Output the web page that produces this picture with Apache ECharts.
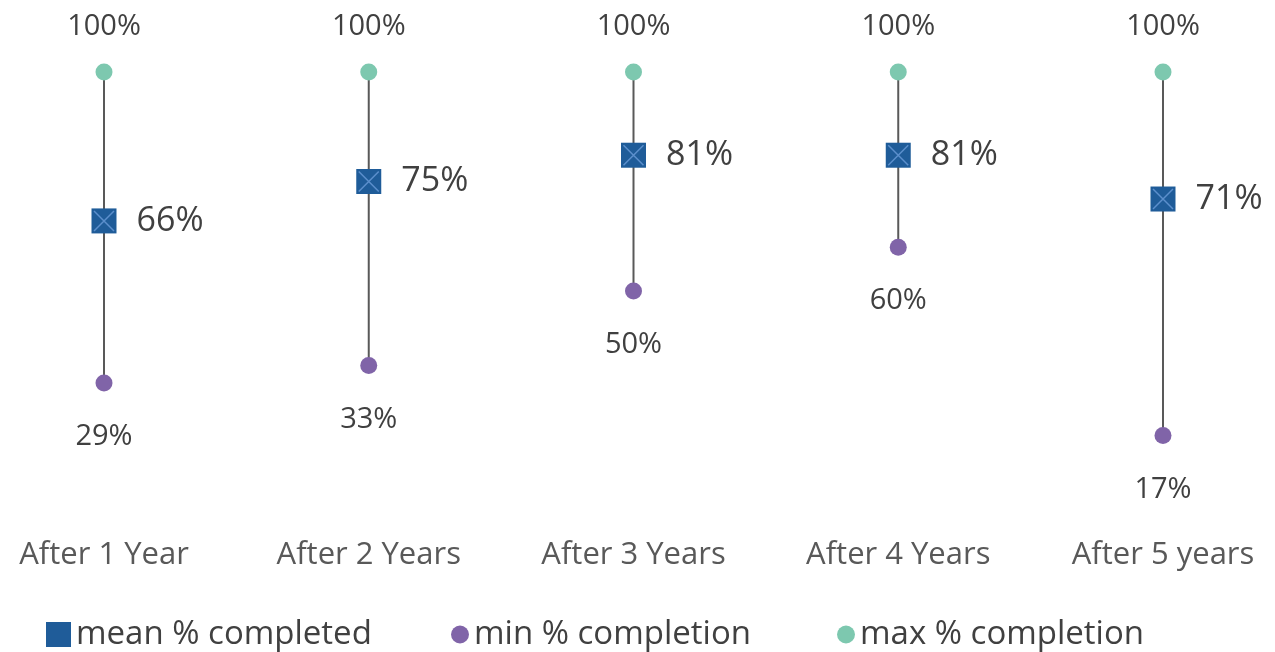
<!DOCTYPE html>
<html>
<head>
<meta charset="utf-8">
<script src="https://cdn.jsdelivr.net/npm/echarts@6/dist/echarts.min.js"></script>
<style>
  html, body { margin: 0; padding: 0; background: #fff; }
  #chart { width: 1275px; height: 652px; }
</style>
</head>
<body>
<div id="chart"></div>
<script>
// data
const categories = ['After 1 Year', 'After 2 Years', 'After 3 Years', 'After 4 Years', 'After 5 years']
const meanValues = [66, 75, 81, 81, 71]
const minValues = [29, 33, 50, 60, 17]
const maxValues = [100, 100, 100, 100, 100]

const FONT = '"Open Sans"'
const TEXT = '#404040'

const chart = echarts.init(document.getElementById('chart'), null, { renderer: 'canvas' })

// high-low line for each category
const rangeData = categories.map((c, i) => [i, minValues[i], maxValues[i]])

const pct = p => p.value + '%'

const legendText = { fontSize: 33, color: TEXT, fontFamily: FONT }

chart.setOption({
    animation: false,
    textStyle: { fontFamily: FONT },
    grid: { left: 104, right: 112, top: 72, bottom: 142 },
    legend: [
        {
            data: [{ name: 'mean % completed', icon: 'rect' }],
            left: 41, top: 613, itemWidth: 25, itemHeight: 25, itemGap: 3,
            textStyle: legendText
        },
        {
            data: [{ name: 'min % completion', icon: 'circle' }],
            left: 446, top: 613, itemWidth: 18, itemHeight: 18, itemGap: 5,
            textStyle: legendText
        },
        {
            data: [{ name: 'max % completion', icon: 'circle' }],
            left: 832, top: 613, itemWidth: 18, itemHeight: 18, itemGap: 5,
            textStyle: legendText
        }
    ],
    xAxis: {
        type: 'category',
        data: categories,
        boundaryGap: false,
        axisLine: { show: false },
        axisTick: { show: false },
        axisLabel: { margin: 30, fontSize: 31, color: '#595959', fontFamily: FONT }
    },
    yAxis: {
        type: 'value',
        min: 0,
        max: 100,
        show: false,
        splitLine: { show: false }
    },
    series: [
        {
            name: 'range',
            type: 'custom',
            z: 1,
            data: rangeData,
            renderItem: (params, api) => {
                const lo = api.coord([api.value(0), api.value(1)])
                const hi = api.coord([api.value(0), api.value(2)])
                return {
                    type: 'line',
                    shape: { x1: lo[0], y1: lo[1], x2: hi[0], y2: hi[1] },
                    style: { stroke: '#595959', lineWidth: 2 }
                }
            }
        },
        {
            name: 'max % completion',
            type: 'scatter',
            z: 3,
            data: maxValues,
            symbol: 'circle',
            symbolSize: 17,
            itemStyle: { color: '#7DC8AF', opacity: 1 },
            label: {
                show: true, position: 'top', distance: 22, formatter: pct,
                fontSize: 29, color: TEXT, fontFamily: FONT
            }
        },
        {
            name: 'min % completion',
            type: 'scatter',
            z: 3,
            data: minValues,
            symbol: 'circle',
            symbolSize: 17,
            itemStyle: { color: '#8064A8', opacity: 1 },
            label: {
                show: true, position: 'bottom', distance: 31, formatter: pct,
                fontSize: 29, color: TEXT, fontFamily: FONT
            }
        },
        {
            name: 'mean % completed',
            type: 'scatter',
            z: 4,
            data: meanValues,
            symbol: 'rect',
            symbolSize: 25,
            itemStyle: { color: '#1F5C99', opacity: 1 },
            label: {
                show: true, position: 'right', distance: 20, formatter: pct,
                fontSize: 34, color: TEXT, fontFamily: FONT
            }
        },
        {
            // the X inside the square marker
            name: 'mean cross',
            type: 'scatter',
            z: 5,
            silent: true,
            data: meanValues,
            symbol: 'path://M0,0L10,10M10,0L0,10',
            symbolSize: 20,
            itemStyle: { color: 'transparent', borderColor: '#5C8FCC', borderWidth: 1.5, opacity: 1 }
        }
    ]
})
</script>
</body>
</html>
